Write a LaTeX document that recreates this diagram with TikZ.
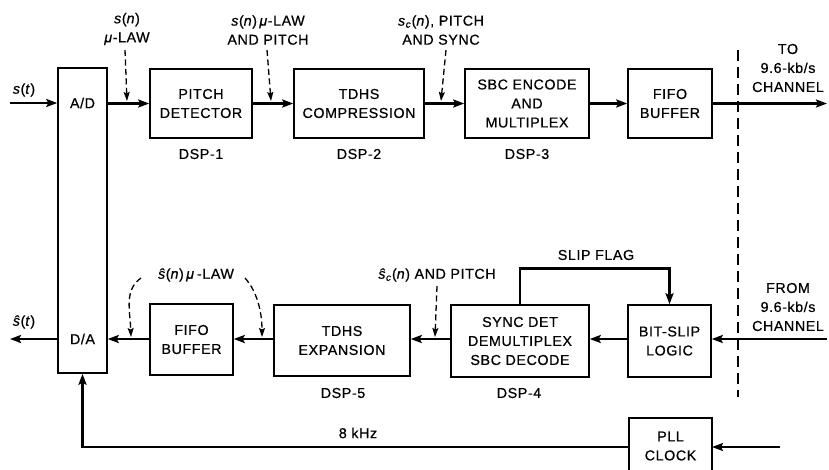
\documentclass[tikz,border=0pt]{standalone}
\usepackage{fontspec}
\setmainfont{Liberation Sans}[LetterSpace=4,FakeBold=0.6]
\usetikzlibrary{arrows.meta}
\newcommand\dfont{\fontsize{14.3}{19}\selectfont}
\begin{document}
\begin{tikzpicture}[x=1pt,y=-1pt,
  box/.style={draw,line width=1.5pt,inner sep=0pt,align=center,font=\dfont},
  lab/.style={align=center,font=\dfont,inner sep=0pt},
  sig/.style={line width=2.6pt,-{Stealth[length=11pt,width=8pt,inset=2pt]}},
  hint/.style={line width=1.3pt,dash pattern=on 6pt off 3.5pt,-{Stealth[length=9pt,width=6pt,inset=1.5pt]}},
  boundary/.style={line width=1.5pt,dash pattern=on 11pt off 6pt}]
\useasboundingbox (0,0) rectangle (829,469);
% boxes
\node[box,minimum width=49pt,minimum height=305pt] (ad) at (82.5,220.5) {};
\node[lab] at (82.5,103) {A/D};
\node[lab] at (82.5,339) {D/A};
\node[box,minimum width=102pt,minimum height=69pt] (pd) at (201,103.5) {PITCH\\DETECTOR};
\node[box,minimum width=130pt,minimum height=69pt] (tc) at (359,103.5) {TDHS\\COMPRESSION};
\node[box,minimum width=124pt,minimum height=69pt] (sbc) at (527,103.5) {SBC ENCODE\\AND\\MULTIPLEX};
\node[box,minimum width=84pt,minimum height=69pt] (f1) at (670,103.5) {FIFO\\BUFFER};
\node[box,minimum width=83pt,minimum height=71pt] (f2) at (191.5,339.5) {FIFO\\BUFFER};
\node[box,minimum width=136pt,minimum height=71pt] (te) at (342,340.5) {TDHS\\EXPANSION};
\node[box,minimum width=138pt,minimum height=72pt] (sd) at (520,341) {SYNC DET\\DEMULTIPLEX\\SBC DECODE};
\node[box,minimum width=83pt,minimum height=72pt] (bs) at (669.5,341) {BIT-SLIP\\LOGIC};
\draw[line width=1.5pt] (629,472) -- (629,418) -- (712,418) -- (712,472);
\node[lab] (pll) at (670.5,446) {PLL\\CLOCK};
% DSP labels
\node[lab] at (201,154) {DSP-1};
\node[lab] at (359,154) {DSP-2};
\node[lab] at (527,154) {DSP-3};
\node[lab] at (343,393) {DSP-5};
\node[lab] at (519,393) {DSP-4};
% channel boundary
\draw[boundary] (738,50) -- (738,397);
% top row
\coordinate (sin) at (10,103);
\draw[sig] (sin) -- (sin -| ad.west);
\node[lab] at (24,90) {\textit{s}(\textit{t})};
\draw[sig] (ad.east |- pd.west) -- (pd.west);
\draw[sig] (pd.east) -- (tc.west);
\draw[sig] (tc.east) -- (sbc.west);
\draw[sig] (sbc.east) -- (f1.west);
\coordinate (tout) at (827,103.5);
\draw[sig] (f1.east) -- (tout);
\node[lab] at (788,68) {TO\\9.6-kb/s\\CHANNEL};
% top hints
\node[lab] (h1) at (127,29) {\textit{s}(\textit{n})\\\textit{μ}-LAW};
\coordinate (h1a) at (125,50); \coordinate (h1b) at (127,101);
\draw[hint] (h1a) -- (h1b);
\node[lab] (h2) at (268,30) {\textit{s}(\textit{n})\,\textit{μ}-LAW\\AND PITCH};
\coordinate (h2a) at (267,50); \coordinate (h2b) at (271,101);
\draw[hint] (h2a) -- (h2b);
\node[lab] (h3) at (441,30) {\textit{s}\textsubscript{\textit{c}}(\textit{n}), PITCH\\AND SYNC};
\coordinate (h3a) at (446,50); \coordinate (h3b) at (441,101);
\draw[hint] (h3a) -- (h3b);
% bottom row
\coordinate (rin) at (827,339);
\draw[sig] (rin) -- (rin -| bs.east);
\node[lab] at (788,307) {FROM\\9.6-kb/s\\CHANNEL};
\draw[sig] (bs.west |- 0,339) -- (sd.east |- 0,339);
\draw[sig] (sd.west |- 0,339) -- (te.east |- 0,339);
\draw[sig] (te.west |- 0,339) -- (f2.east |- 0,339);
\draw[sig] (f2.west |- 0,339) -- (ad.east |- 0,339);
\coordinate (sout) at (10,339);
\draw[sig] (ad.west |- sout) -- (sout);
\node[lab] at (24,322) {\textit{ŝ}(\textit{t})};
% slip flag
\draw[sig] (sd.north) -- ++(0,-36) -| (bs.north);
\node[lab] at (596,255) {SLIP FLAG};
% bottom hints
\node[lab] (h4) at (437,275) {\textit{ŝ}\textsubscript{\textit{c}}(\textit{n}) AND PITCH};
\coordinate (h4a) at (437,286); \coordinate (h4b) at (435,337);
\draw[hint] (h4a) -- (h4b);
\node[lab] (h5) at (196,275) {\textit{ŝ}(\textit{n})\,\textit{μ}\,-LAW};
\coordinate (h5a) at (141,278); \coordinate (h5b) at (131,337);
\draw[hint] (h5a) .. controls (124,290) and (130,310) .. (h5b);
\coordinate (h6a) at (245,278); \coordinate (h6b) at (262,337);
\draw[hint] (h6a) .. controls (256,290) and (262,310) .. (h6b);
% clock
\coordinate (pin) at (780,447);
\draw[sig] (pin) -- (712,447);
\draw[sig] (629,447) -- (ad.south |- 0,447) -- (ad.south);
\node[lab] at (358,433) {8 kHz};
\end{tikzpicture}
\end{document}
